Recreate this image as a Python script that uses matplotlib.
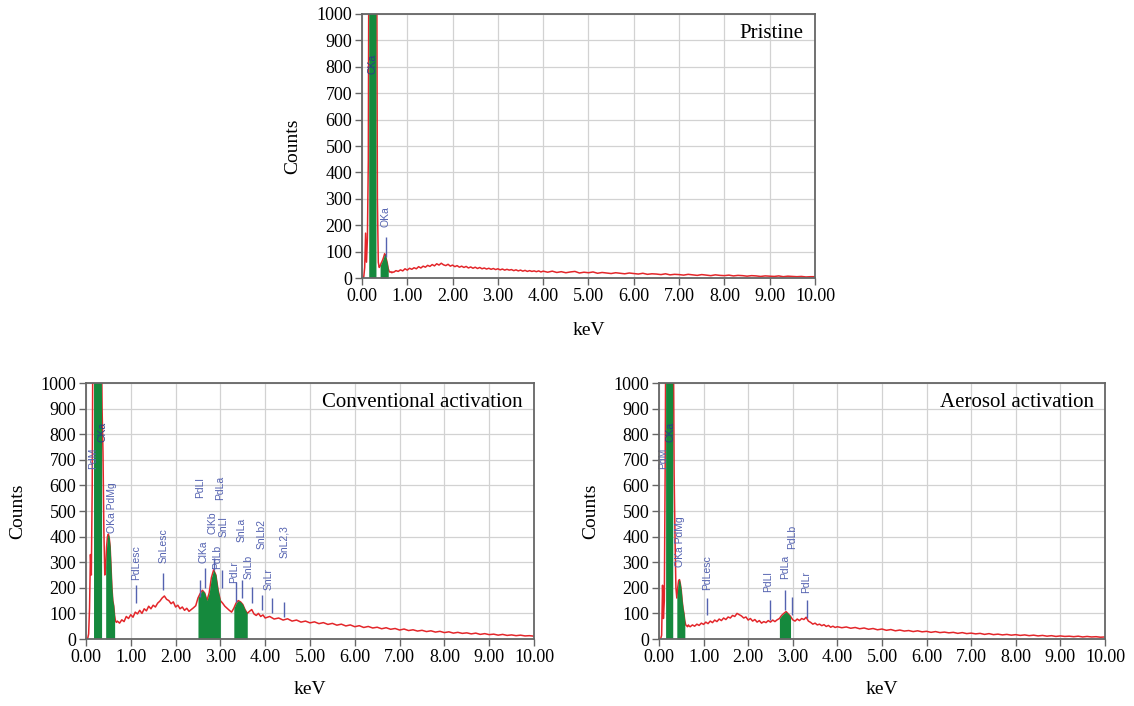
import numpy as np
import matplotlib
matplotlib.use("Agg")
import matplotlib.pyplot as plt
from matplotlib.ticker import FormatStrFormatter

plt.rcParams['font.family'] = ['Liberation Serif', 'DejaVu Serif']

# ---------------- energy grid (keV) ----------------
energy_fine = np.round(np.arange(0.0, 0.681, 0.02), 2)   # 0.00 .. 0.68
energy_mid = np.round(np.arange(0.70, 4.001, 0.05), 2)   # 0.70 .. 4.00
energy_tail = np.round(np.arange(4.1, 10.001, 0.1), 1)   # 4.1 .. 10.0
energy = np.concatenate([energy_fine, energy_mid, energy_tail])

# ---------------- Pristine ----------------
pristine_fine = [0, 0, 5, 40, 170, 60, 150, 445, 1800, 2600, 3000, 3300, 3500, 3400, 3000,
                 2400, 1600, 300, 60, 40, 45, 55, 62, 70, 80, 92, 85, 70, 55, 35, 25, 22, 24, 20, 23]
pristine_mid = [22, 28, 25, 31, 27, 35, 30, 37, 33, 39,
                35, 43, 38, 45, 41, 48, 44, 51, 46, 54,
                49, 56, 50, 47, 52, 45, 49, 43, 47, 41,
                45, 40, 44, 38, 42, 37, 41, 36, 40, 35,
                38, 34, 37, 33, 36, 32, 35, 31, 34, 30,
                33, 30, 32, 28, 31, 27, 30, 26, 29, 25,
                28, 25, 27, 24, 27, 23, 26]
pristine_tail = [22, 26, 21, 24, 20, 23, 25, 19, 22, 20,
                 23, 18, 21, 19, 17, 20, 18, 16, 19, 17,
                 15, 18, 14, 16, 15, 13, 16, 12, 14, 13,
                 11, 14, 12, 10, 13, 11, 9, 12, 10, 9,
                 11, 8, 10, 9, 7, 9, 8, 6, 8, 7,
                 6, 8, 5, 7, 6, 5, 6, 4, 5, 5]
pristine_rois = [(0.16, 0.32), (0.40, 0.58)]
pristine_labels = ["OKa"]
pristine_label_x = [0.52]
pristine_label_y = [232]
pristine_marker_x = [0.52]
pristine_marker_lo = [80]
pristine_marker_hi = [157]
pristine_dark_labels = ["CKa"]
pristine_dark_x = [0.24]
pristine_dark_y = [810]

# ---------------- Conventional activation ----------------
conv_fine = [0, 0, 3, 20, 120, 330, 250, 600, 1400, 2600, 3500, 3900, 4000, 3800, 3300,
             2600, 1800, 1300, 900, 730, 420, 250, 280, 360, 400, 410, 395, 360, 280, 200,
             150, 130, 90, 70, 65]
conv_mid = [70, 62, 75, 68, 88, 80, 95, 85, 105, 98,
            112, 100, 118, 110, 128, 118, 132, 125, 140, 148,
            160, 168, 155, 150, 138, 145, 125, 132, 118, 125,
            112, 120, 108, 115, 122, 130, 160, 178, 190, 180,
            150, 180, 240, 270, 250, 190, 150, 140, 128, 120,
            112, 105, 120, 140, 150, 145, 135, 115, 100, 108,
            115, 98, 92, 100, 88, 94, 82]
conv_tail = [88, 78, 82, 74, 79, 70, 74, 66, 70, 63,
             67, 60, 64, 57, 61, 54, 58, 51, 55, 48,
             52, 45, 49, 43, 46, 40, 44, 38, 41, 35,
             39, 33, 36, 31, 34, 29, 32, 27, 30, 25,
             28, 23, 26, 22, 24, 20, 23, 18, 21, 17,
             19, 15, 18, 14, 16, 13, 15, 12, 13, 11]
conv_rois = [(0.18, 0.36), (0.44, 0.64), (2.50, 3.00), (3.30, 3.60)]
conv_labels = ["PdM", "OKa PdMg", "PdLesc", "SnLesc", "PdLl", "ClKa", "ClKb", "PdLb", "PdLa",
               "SnLl", "PdLr", "SnLa", "SnLb", "SnLb2", "SnLr", "SnL2,3"]
conv_label_x = [0.16, 0.58, 1.12, 1.73, 2.55, 2.62, 2.83, 2.93, 3.00, 3.07, 3.30, 3.48,
                3.63, 3.93, 4.08, 4.42]
conv_label_y = [705, 515, 300, 363, 590, 341, 453, 322, 590, 438, 260, 425, 281, 412, 236, 380]
conv_marker_x = [1.12, 1.73, 2.55, 2.66, 2.85, 3.03, 3.36, 3.48, 3.70, 3.92, 4.15, 4.42]
conv_marker_lo = [140, 191, 164, 199, 270, 199, 145, 160, 141, 113, 100, 86]
conv_marker_hi = [210, 258, 230, 277, 316, 270, 223, 230, 203, 172, 160, 145]
conv_dark_labels = ["CKa"]
conv_dark_x = [0.37]
conv_dark_y = [810]

# ---------------- Aerosol activation ----------------
aero_fine = [0, 0, 2, 15, 210, 80, 150, 700, 1500, 2600, 3400, 3800, 3900, 3600, 3000,
             2200, 1300, 640, 390, 200, 160, 200, 228, 232, 215, 190, 150, 120, 100, 70,
             55, 52, 48, 55, 50]
aero_mid = [48, 55, 50, 58, 53, 62, 57, 66, 60, 70,
            64, 74, 68, 78, 72, 82, 76, 86, 82, 92,
            88, 100, 95, 90, 82, 86, 74, 80, 70, 76,
            66, 72, 62, 68, 64, 72, 66, 74, 68, 75,
            80, 92, 100, 107, 98, 88, 75, 70, 78, 72,
            80, 76, 85, 70, 65, 58, 62, 55, 58, 52,
            56, 49, 53, 46, 50, 45, 48]
aero_tail = [44, 47, 42, 45, 40, 43, 38, 41, 36, 39,
             34, 37, 32, 35, 31, 33, 29, 32, 28, 30,
             26, 29, 25, 27, 24, 26, 22, 25, 21, 23,
             20, 22, 18, 21, 17, 19, 16, 18, 15, 17,
             14, 16, 13, 15, 12, 14, 11, 13, 10, 12,
             10, 11, 9, 11, 8, 10, 8, 9, 7, 8]
aero_rois = [(0.16, 0.32), (0.40, 0.58), (2.70, 2.98)]
aero_labels = ["PdM", "OKa PdMg", "PdLesc", "PdLl", "PdLa", "PdLb", "PdLr"]
aero_label_x = [0.10, 0.47, 1.07, 2.45, 2.83, 2.98, 3.31]
aero_label_y = [705, 380, 260, 223, 283, 397, 223]
aero_marker_x = [1.07, 2.48, 2.82, 2.98, 3.31]
aero_marker_lo = [94, 74, 113, 94, 82]
aero_marker_hi = [160, 152, 191, 164, 152]
aero_dark_labels = ["CKa"]
aero_dark_x = [0.26]
aero_dark_y = [810]

xticks = [0, 1, 2, 3, 4, 5, 6, 7, 8, 9, 10]
yticks = [0, 100, 200, 300, 400, 500, 600, 700, 800, 900, 1000]

RED = "#e3262a"
GREEN = "#15893d"
BLUE = "#5462b0"
DARK = "#2b3b85"
SPINE = "#666666"
GRID = "#d2d2d2"
LABEL_FONT = ['Liberation Sans Narrow', 'Liberation Sans', 'DejaVu Sans']


def spectrum(fine, mid, tail):
    assert len(fine) == len(energy_fine)
    assert len(mid) == len(energy_mid)
    assert len(tail) == len(energy_tail)
    return np.array(fine + mid + tail, dtype=float)


def draw(ax, counts, rois, labels, lx, ly, mx, mlo, mhi, dlabels, dx, dy, title):
    ax.plot(energy, counts, color=RED, lw=1.1, zorder=3)
    for lo, hi in rois:
        mask = (energy >= lo - 1e-9) & (energy <= hi + 1e-9)
        ax.fill_between(energy, 0, counts, where=mask, color=GREEN, lw=0, zorder=4)
    ax.vlines(mx, mlo, mhi, color=BLUE, lw=1.0, zorder=5)
    for t, x, y in zip(labels, lx, ly):
        ax.text(x, y, t, rotation=90, ha='center', va='center', color=BLUE,
                fontsize=7.5, family=LABEL_FONT, zorder=6)
    for t, x, y in zip(dlabels, dx, dy):
        ax.text(x, y, t, rotation=90, ha='center', va='center', color=DARK,
                fontsize=7.5, family=LABEL_FONT, zorder=6)
    ax.text(0.975, 0.925, title, transform=ax.transAxes, ha='right', va='center',
            fontsize=15, color='black', zorder=7)

    ax.set_xlim(0, 10)
    ax.set_ylim(0, 1000)
    ax.set_xticks(xticks)
    ax.set_yticks(yticks)
    ax.xaxis.set_major_formatter(FormatStrFormatter('%.2f'))
    ax.grid(True, color=GRID, lw=0.9)
    ax.set_axisbelow(True)
    for s in ax.spines.values():
        s.set_color(SPINE)
        s.set_linewidth(1.3)
        s.set_zorder(8)
    ax.tick_params(direction='out', length=5, width=1, color=SPINE, labelsize=13, pad=2)
    ax.set_xlabel("keV", fontsize=14)
    ax.set_ylabel("Counts", fontsize=14)
    ax.xaxis.set_label_coords(0.5, -0.165)
    ax.yaxis.set_label_coords(-0.133, 0.5)


fig = plt.figure(figsize=(11.34, 7.06), dpi=100)
ax_top = fig.add_axes([0.3192, 0.6062, 0.3995, 0.374])
ax_left = fig.add_axes([0.0758, 0.0949, 0.3951, 0.3626])
ax_right = fig.add_axes([0.5811, 0.0949, 0.3933, 0.3626])

draw(ax_top, spectrum(pristine_fine, pristine_mid, pristine_tail), pristine_rois,
     pristine_labels, pristine_label_x, pristine_label_y,
     pristine_marker_x, pristine_marker_lo, pristine_marker_hi,
     pristine_dark_labels, pristine_dark_x, pristine_dark_y, "Pristine")
draw(ax_left, spectrum(conv_fine, conv_mid, conv_tail), conv_rois,
     conv_labels, conv_label_x, conv_label_y,
     conv_marker_x, conv_marker_lo, conv_marker_hi,
     conv_dark_labels, conv_dark_x, conv_dark_y, "Conventional activation")
draw(ax_right, spectrum(aero_fine, aero_mid, aero_tail), aero_rois,
     aero_labels, aero_label_x, aero_label_y,
     aero_marker_x, aero_marker_lo, aero_marker_hi,
     aero_dark_labels, aero_dark_x, aero_dark_y, "Aerosol activation")

fig.savefig("out.png", dpi=100)
